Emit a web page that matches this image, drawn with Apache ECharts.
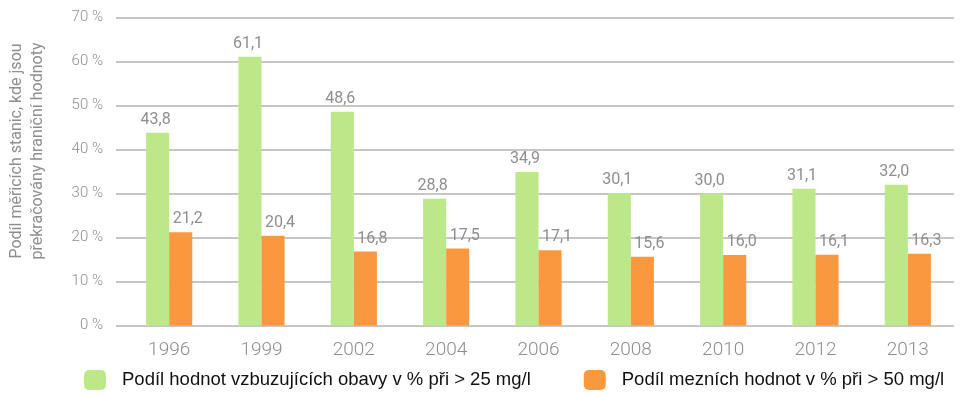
<!DOCTYPE html>
<html>
<head>
<meta charset="utf-8">
<script src="https://cdn.jsdelivr.net/npm/echarts@6/dist/echarts.min.js"></script>
<style>
  html, body { margin: 0; padding: 0; background: #fff; }
  #chart { width: 960px; height: 396px; }
</style>
</head>
<body>
<div id="chart"></div>
<script>
// Years of measurement
const years = ['1996', '1999', '2002', '2004', '2006', '2008', '2010', '2012', '2013'];
// Share of stations with values of concern (> 25 mg/l), %
const concernShare = [43.8, 61.1, 48.6, 28.8, 34.9, 30.1, 30.0, 31.1, 32.0];
// Share of stations exceeding the limit (> 50 mg/l), %
const limitShare = [21.2, 20.4, 16.8, 17.5, 17.1, 15.6, 16.0, 16.1, 16.3];
// Series names
const seriesNames = [
  'Podíl hodnot vzbuzujících obavy v % při > 25 mg/l',
  'Podíl mezních hodnot v % při > 50 mg/l'
];
const yAxisTitle = 'Podíl měřicích stanic, kde jsou\npřekračovány hraniční hodnoty';

const fmt = v => v.toFixed(1).replace('.', ',');
const grey = '#8e8e8e';
const lineGrey = '#b3b3b3';

const chart = echarts.init(document.getElementById('chart'));
chart.setOption({
  animation: false,
  grid: { left: 123, right: 6, top: 17.5, bottom: 70.5, containLabel: false, outerBoundsMode: 'none' },
  graphic: [{
    type: 'text',
    x: 27,
    y: 151,
    rotation: Math.PI / 2,
    style: {
      text: yAxisTitle,
      fill: grey,
      font: '16px Roboto',
      lineHeight: 21,
      align: 'center',
      verticalAlign: 'middle'
    }
  }],
  legend: {
    bottom: 1,
    left: 79,
    itemWidth: 22,
    itemHeight: 20,
    itemGap: 53,
    textStyle: { fontFamily: 'Liberation Sans', fontSize: 18.5, color: '#111', padding: [0, 0, 0, 11] },
    data: seriesNames
  },
  xAxis: {
    type: 'category',
    data: years,
    axisLine: { show: false },
    axisTick: { show: false },
    axisLabel: { color: grey, fontFamily: 'Roboto', fontWeight: 300, fontSize: 19, margin: 15 }
  },
  yAxis: {
    type: 'value',
    min: 0,
    max: 70,
    interval: 10,
    axisLine: { show: false },
    axisTick: { show: true, length: 7, lineStyle: { color: lineGrey, width: 1.5 } },
    axisLabel: {
      color: grey,
      fontFamily: 'Roboto',
      fontWeight: 300,
      fontSize: 15,
      margin: 20,
      formatter: v => v + ' %'
    },
    splitLine: { lineStyle: { color: lineGrey, width: 1.5 } }
  },
  series: [
    {
      name: seriesNames[0],
      type: 'bar',
      data: concernShare,
      barGap: '0%',
      barCategoryGap: '50%',
      itemStyle: { color: '#bde88a' },
      label: {
        show: true,
        position: 'top',
        distance: 5,
        offset: [-2, 0],
        color: grey,
        fontFamily: 'Roboto',
        fontSize: 16,
        formatter: p => fmt(p.value)
      }
    },
    {
      name: seriesNames[1],
      type: 'bar',
      data: limitShare,
      itemStyle: { color: '#fa9840' },
      label: {
        show: true,
        position: 'top',
        distance: 5,
        offset: [7, 0],
        color: grey,
        fontFamily: 'Roboto',
        fontSize: 16,
        formatter: p => fmt(p.value)
      }
    }
  ]
});
</script>
</body>
</html>
